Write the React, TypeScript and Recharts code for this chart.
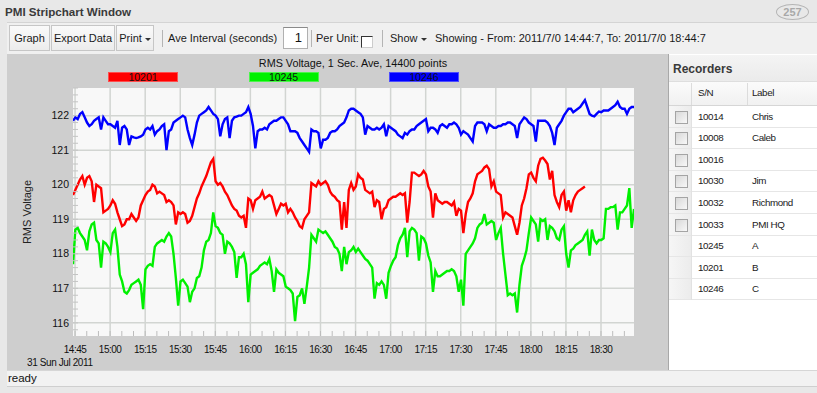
import React from 'react';
import { LineChart, Line, XAxis, YAxis, CartesianGrid } from 'recharts';

const FONT = "'Liberation Sans', Arial, sans-serif";

// ---- time axis (minutes since midnight) ----
const startMinute = 14 * 60 + 44 + 7 / 60; // 2011/7/0 14:44:7
const endMinute = 18 * 60 + 44 + 7 / 60; // 2011/7/0 18:44:7
const stepMinutes = 1;

const xTickLabels = ['14:45', '15:00', '15:15', '15:30', '15:45', '16:00', '16:15', '16:30', '16:45', '17:00', '17:15', '17:30', '17:45', '18:00', '18:15', '18:30'];
const yTickLabels = [116, 117, 118, 119, 120, 121, 122];

// ---- series (one value per minute) ----
const seriesNames = ['10201', '10245', '10246'];
const seriesColors = ['#ff0000', '#00f000', '#0000ff'];

const v10246 = [
  121.85, 121.95, 121.9, 122.05, 122.1, 121.95, 121.8, 121.7, 121.75, 121.85,
  121.9, 121.95, 121.6, 121.95, 121.85, 121.75, 121.75, 121.7, 121.65, 121.85,
  121.15, 121.65, 121.7, 121.6, 121.15, 121.4, 121.37, 121.35, 121.37, 121.4,
  121.45, 121.6, 121.65, 121.6, 121.7, 121.45, 121.55, 121.6, 121.7, 121.75,
  121.0, 121.55, 121.6, 121.8, 121.85, 121.9, 121.95, 122.0, 121.95, 121.6,
  121.35, 121.15, 121.45, 121.8, 122.0, 122.05, 122.1, 122.15, 122.25, 122.15,
  122.05, 122.0, 121.9, 121.4, 121.75, 121.9, 121.95, 121.35, 121.85, 121.95,
  121.97, 122.0, 122.0, 122.05, 122.1, 122.25, 122.05, 121.7, 121.05, 121.55,
  121.6, 121.6, 121.65, 121.6, 121.75, 121.8, 121.85, 121.85, 121.9, 121.95,
  121.95, 121.85, 121.75, 121.55, 121.55, 121.55, 121.5, 121.35, 121.25, 121.15,
  121.05, 120.95, 121.6, 121.55, 121.55, 121.5, 121.05, 121.3, 121.3, 121.35,
  121.5, 121.55, 121.55, 121.6, 121.7, 121.75, 121.8, 121.95, 122.15, 122.2,
  122.2, 122.15, 122.1, 122.05, 121.95, 121.45, 121.7, 121.65, 121.6, 121.6,
  121.65, 121.6, 121.65, 121.75, 121.4, 121.7, 121.65, 121.6, 121.55, 121.45,
  121.4, 121.35, 121.5, 121.45, 121.55, 121.6, 121.6, 121.7, 121.75, 121.8,
  121.85, 121.9, 121.55, 121.65, 121.65, 121.6, 121.5, 121.7, 121.75, 121.7,
  121.65, 121.75, 121.75, 121.8, 121.75, 121.65, 121.45, 121.55, 121.5, 121.45,
  121.35, 121.25, 121.7, 121.8, 121.8, 121.8, 121.75, 121.55, 121.75, 121.7,
  121.65, 121.65, 121.7, 121.7, 121.75, 121.75, 121.8, 121.8, 121.75, 121.7,
  121.35, 121.75, 121.85, 121.95, 121.9, 121.8, 121.75, 121.7, 121.25, 121.85,
  121.85, 121.85, 121.85, 121.8, 121.7, 121.5, 121.15, 121.65, 121.75, 121.85,
  122.0, 122.1, 122.2, 122.2, 122.1, 122.15, 122.2, 122.25, 122.35, 122.45,
  122.25, 122.05, 122.0, 121.98, 122.05, 122.12, 122.1, 122.15, 122.15, 122.15,
  122.2, 122.25, 122.3, 122.4, 122.25, 122.2, 122.2, 122.05, 122.2, 122.25,
  122.25,
];

const v10201 = [
  119.7, 119.85, 120.0, 120.15, 120.25, 120.0, 120.2, 120.25, 120.1, 119.5,
  120.0, 119.95, 119.9, 119.2, 119.25, 119.3, 119.4, 119.55, 119.45, 119.2,
  119.0, 118.8, 118.85, 119.0, 119.0, 119.15, 119.05, 118.95, 119.05, 119.4,
  119.55, 119.7, 119.8, 119.85, 120.0, 119.95, 119.75, 119.8, 119.75, 119.7,
  119.5, 119.55, 119.5, 119.4, 118.85, 119.2, 119.15, 119.2, 119.15, 118.9,
  118.95, 119.1, 119.35, 119.6, 119.75, 119.95, 120.1, 120.25, 120.45, 120.65,
  120.75, 120.1, 120.0, 120.05, 119.95, 119.8, 119.7, 119.55, 119.4, 119.3,
  119.25, 119.1, 119.05, 119.1, 118.75, 119.6, 119.55, 119.3, 119.55, 119.6,
  119.65, 119.8, 119.6, 119.65, 119.7, 119.65, 119.4, 119.15, 119.3, 119.45,
  119.4, 119.45, 119.2, 119.3, 119.2, 119.05, 118.95, 118.8, 118.75, 119.0,
  119.1, 119.2, 120.05, 120.0, 119.95, 120.1, 120.0, 120.05, 120.1, 120.0,
  119.8, 119.7, 119.65, 119.55, 119.5, 118.7, 119.5, 118.75, 119.85, 120.05,
  119.85, 119.95, 120.3, 120.2, 120.15, 119.85, 119.8, 119.75, 119.8, 119.35,
  119.55, 119.5, 119.0, 119.3, 119.35, 119.55, 119.6, 119.65, 119.65, 119.7,
  119.75, 119.7, 119.75, 118.9, 119.5, 120.35, 120.35, 120.3, 120.25, 120.3,
  120.4, 120.3, 119.95, 119.8, 119.05, 119.75, 119.55, 119.5, 119.45, 119.5,
  119.5, 119.45, 119.4, 119.5, 119.1, 119.3, 119.25, 118.6, 119.15, 119.5,
  119.6, 119.75, 120.1, 120.3, 120.35, 120.4, 120.5, 120.55, 120.45, 119.95,
  120.1, 119.8, 119.75, 119.7, 119.05, 119.2, 119.15, 119.1, 119.05, 118.8,
  118.55, 118.9, 119.4, 119.6, 119.9, 120.3, 120.35, 120.2, 120.1, 120.55,
  120.75, 120.78, 120.7, 120.6, 120.15, 120.4, 119.7, 119.5, 119.35, 119.7,
  119.8, 119.25, 119.55, 119.2, 119.55, 119.7, 119.8, 119.85, 119.9, 119.95,
  null, null, null, null, null, null, null, null, null, null,
  null, null, null, null, null, null, null, null, null, null,
  null,
];

const v10245 = [
  117.7, 118.7, 118.75, 118.6, 118.5, 118.4, 118.1, 118.65, 118.85, 118.9,
  118.4, 118.3, 117.6, 118.35, 118.3, 118.2, 118.05, 118.6, 118.7, 118.2,
  117.4, 117.2, 116.9, 116.85, 116.95, 117.1, 117.15, 117.2, 117.25, 117.1,
  116.4, 117.55, 117.65, 117.7, 117.65, 118.2, 118.3, 118.35, 118.4, 118.35,
  118.5, 118.6, 118.5, 118.0, 117.3, 116.5, 117.2, 117.25, 117.15, 117.05,
  116.6, 116.9, 117.0, 117.3, 117.35, 117.6, 118.1, 118.35, 118.4, 118.6,
  119.2, 118.8, 118.75, 118.6, 118.55, 118.0, 118.35, 118.3, 118.2, 118.05,
  117.3, 117.9, 117.9, 118.0, 117.7, 116.6, 117.4, 117.45, 117.5, 117.55,
  117.65, 117.7, 117.75, 117.7, 117.85, 117.5, 116.9, 117.55, 117.45, 117.4,
  117.35, 117.05, 117.0, 116.95, 116.85, 116.05, 116.75, 116.8, 117.0, 116.55,
  117.05, 117.6, 118.55, 118.45, 118.35, 118.7, 118.65, 118.6, 118.65, 118.55,
  118.45, 118.35, 118.2, 118.15, 118.0, 117.5, 118.2, 117.7, 118.05, 118.1,
  118.2, 118.05, 118.15, 118.05, 117.95, 117.85, 117.8, 117.7, 117.6, 116.7,
  117.15, 117.1, 117.2, 117.1, 116.7, 117.45, 117.65, 117.8, 117.9, 118.25,
  118.45, 118.55, 118.75, 117.9, 118.65, 118.75, 118.7, 118.6, 117.8, 118.5,
  118.45, 118.3, 117.95, 117.75, 116.9, 117.5, 117.35, 117.35, 117.4, 117.45,
  117.5, 117.5, 117.55, 117.5, 117.35, 116.9, 117.25, 116.5, 118.0, 118.1,
  118.2, 118.3, 118.45, 118.75, 118.85, 118.9, 119.15, 118.85, 118.9, 118.95,
  118.9, 118.4, 118.6, 118.75, 118.0, 117.4, 116.8, 116.85, 116.8, 116.85,
  116.3, 117.1, 117.65, 117.85, 118.1, 118.6, 119.05, 118.95, 118.85, 118.35,
  119.0, 118.95, 119.0, 118.4, 118.8, 118.75, 118.65, 118.45, 118.4, 118.7,
  118.8, 118.0, 117.6, 118.1, 118.15, 118.25, 118.3, 118.35, 118.4, 118.55,
  118.65, 117.95, 118.7, 118.4, 118.3, 118.4, 118.4, 118.45, 119.3, 119.3,
  119.35, 119.35, 119.4, 118.7, 119.2, 119.2, 119.3, 119.4, 119.9, 118.75,
  119.3,
];

const seriesValues = [v10201, v10245, v10246];

// ---- recorders table ----
const recorderSN = ['10014', '10008', '10016', '10030', '10032', '10033', '10245', '10201', '10246'];
const recorderLabel = ['Chris', 'Caleb', '', 'Jim', 'Richmond', 'PMI HQ', 'A', 'B', 'C'];
const recorderHasBox = [true, true, true, true, true, true, false, false, false];

// ---- derived chart table ----
const toMinutes = (s: string) => {
  const [h, m] = s.split(':').map(Number);
  return h * 60 + m;
};
const majorTicks = xTickLabels.map(toMinutes);
const labelByMinute = new Map<number, string>(xTickLabels.map((l) => [toMinutes(l), l]));
const minorXTicks: number[] = [];
for (let m = majorTicks[0]; m <= endMinute; m += 5) minorXTicks.push(m);
const minorYTicks: number[] = [];
for (let k = 0; k <= 35; k++) minorYTicks.push(Math.round((115.8 + 0.2 * k) * 10) / 10);

const chartData = v10201.map((_, i) => {
  const row: Record<string, number | null> = { t: startMinute + i * stepMinutes };
  seriesNames.forEach((n, s) => {
    row['s' + n] = seriesValues[s][i];
  });
  return row;
});

const XTick = (props: any) => {
  const { x, y, payload } = props;
  const label = labelByMinute.get(Math.round(payload.value));
  return (
    <g>
      <line x1={x} x2={x} y1={y - 13} y2={y - 18} stroke="#bdbdbd" strokeWidth={1} />
      {label ? (
        <text x={x} y={y} dy="0.35em" textAnchor="middle" fontSize={10} fill="#111" fontFamily={FONT} style={{ letterSpacing: '-0.5px' }}>
          {label}
        </text>
      ) : null}
    </g>
  );
};

const YTick = (props: any) => {
  const { x, y, payload } = props;
  const v = payload.value;
  const isMajor = yTickLabels.includes(v);
  return (
    <g>
      <line x1={x + 4} x2={x + 9} y1={y} y2={y} stroke="#c4c4c4" strokeWidth={1} />
      {isMajor ? (
        <text x={x} y={y} dy="0.35em" textAnchor="end" fontSize={10.5} fill="#111" fontFamily={FONT}>
          {v}
        </text>
      ) : null}
    </g>
  );
};

const T = (p: { x: number; y: number; children: React.ReactNode; size?: number; bold?: boolean; color?: string; ls?: number }) => (
  <div
    style={{
      position: 'absolute',
      left: p.x,
      top: p.y,
      fontSize: p.size ?? 11,
      fontWeight: p.bold ? 'bold' : 'normal',
      color: p.color ?? '#1a1a1a',
      lineHeight: '14px',
      whiteSpace: 'nowrap',
      letterSpacing: p.ls ? `${p.ls}px` : undefined,
    }}
  >
    {p.children}
  </div>
);

const Btn = (p: { x: number; w: number; children: React.ReactNode }) => (
  <div
    style={{
      position: 'absolute',
      left: p.x,
      top: 25,
      width: p.w,
      height: 26,
      boxSizing: 'border-box',
      border: '1px solid #c6c6c6',
      background: 'linear-gradient(#fafafa, #ececec)',
      fontSize: 11,
      color: '#1a1a1a',
      textAlign: 'center',
      lineHeight: '24px',
      whiteSpace: 'nowrap',
    }}
  >
    {p.children}
  </div>
);

const Sep = (p: { x: number }) => (
  <div style={{ position: 'absolute', left: p.x, top: 30, width: 1, height: 17, background: '#b4b4b4' }} />
);

const Caret = () => (
  <span style={{ display: 'inline-block', width: 0, height: 0, borderLeft: '3px solid transparent', borderRight: '3px solid transparent', borderTop: '3px solid #333', marginLeft: 3, verticalAlign: 'middle' }} />
);

export default function App() {
  const rowTop = 106;
  const rowH = 21.6;
  return (
    <div style={{ position: 'absolute', left: 0, top: 0, width: 817, height: 393, background: '#e8e8e8', overflow: 'hidden', fontFamily: FONT }}>
      {/* window title */}
      <T x={5} y={5} size={11.6} bold color="#3a3a3a">PMI Stripchart Window</T>
      <div style={{ position: 'absolute', left: 776, top: 4, width: 31, height: 14, border: '1px solid #b4b4b4', borderRadius: '50%', fontSize: 11, color: '#a8a8a8', textAlign: 'center', lineHeight: '14px', fontWeight: 'bold' }}>257</div>

      {/* toolbar */}
      <div style={{ position: 'absolute', left: 7, top: 22, width: 810, height: 32, background: '#f0f0f0', borderTop: '1px solid #d4d4d4', boxSizing: 'border-box' }} />
      <Btn x={9} w={41}>Graph</Btn>
      <Btn x={51} w={64}>Export Data</Btn>
      <Btn x={116} w={38}>
        Print<Caret />
      </Btn>
      <Sep x={162} />
      <T x={168} y={31}>Ave Interval (seconds)</T>
      <div style={{ position: 'absolute', left: 283, top: 27, width: 25, height: 22, boxSizing: 'border-box', background: '#fff', border: '1px solid #b0b0b0', borderTopColor: '#8a8a8a', fontSize: 13, textAlign: 'right', paddingRight: 5, lineHeight: '20px', color: '#111' }}>1</div>
      <Sep x={311} />
      <T x={316} y={31}>Per Unit:</T>
      <div style={{ position: 'absolute', left: 361, top: 36, width: 12, height: 12, boxSizing: 'border-box', background: '#fff', borderTop: '1px solid #333', borderLeft: '1px solid #333', borderRight: '1px solid #ccc', borderBottom: '1px solid #ccc' }} />
      <Sep x={382} />
      <T x={390} y={31}>
        Show<Caret />
      </T>
      <T x={435} y={31}>Showing - From: 2011/7/0 14:44:7, To: 2011/7/0 18:44:7</T>

      {/* chart panel */}
      <div style={{ position: 'absolute', left: 7, top: 54, width: 661, height: 316, background: '#cecece' }}>
        <LineChart width={661} height={316} data={chartData} margin={{ top: 34, right: 34, bottom: 14, left: 0 }}>
          <CartesianGrid
            fill="#f8f8f8"
            stroke="#d2d5d2"
            strokeWidth={1.5}
            horizontalValues={yTickLabels}
            verticalValues={majorTicks}
          />
          <XAxis
            dataKey="t"
            type="number"
            domain={[startMinute, endMinute]}
            ticks={minorXTicks}
            interval={0}
            axisLine={false}
            tickLine={false}
            tickSize={0}
            tickMargin={13}
            height={20}
            tick={<XTick />}
            allowDataOverflow
          />
          <YAxis
            type="number"
            domain={[115.62, 122.8]}
            ticks={minorYTicks}
            interval={0}
            axisLine={false}
            tickLine={false}
            tickSize={0}
            tickMargin={4}
            width={66}
            tick={<YTick />}
            allowDataOverflow
            label={{ value: 'RMS Voltage', angle: -90, position: 'insideLeft', offset: 20, style: { textAnchor: 'middle' }, fontSize: 11, fill: '#222', fontFamily: FONT }}
          />
          {seriesNames.map((n, i) => (
            <Line key={n} dataKey={'s' + n} stroke={seriesColors[i]} strokeWidth={2.4} dot={false} type="linear" isAnimationActive={false} connectNulls={false} />
          ))}
        </LineChart>
      </div>
      {/* chart title + legend */}
      <div style={{ position: 'absolute', left: 203, top: 56, width: 300, textAlign: 'center', fontSize: 10.8, color: '#111', lineHeight: '14px' }}>RMS Voltage, 1 Sec. Ave, 14400 points</div>
      <div style={{ position: 'absolute', left: 108, top: 72, display: 'flex', gap: 70.5 }}>
        {seriesNames.map((n, i) => (
          <div key={n} style={{ width: 70, height: 10, boxSizing: 'border-box', background: seriesColors[i], border: '1px solid rgba(255,255,255,0.3)', fontSize: 10.5, lineHeight: '9px', textAlign: 'center', color: '#111' }}>{n}</div>
        ))}
      </div>
      <T x={27} y={356} size={10} ls={-0.4} color="#111">31 Sun Jul 2011</T>

      {/* recorders panel */}
      <div style={{ position: 'absolute', left: 668, top: 54, width: 149, height: 316, background: '#fff', borderLeft: '1px solid #a8a8a8', boxSizing: 'border-box' }} />
      <div style={{ position: 'absolute', left: 669, top: 55, width: 148, height: 27, background: 'linear-gradient(#f4f4f4, #ebebeb)', borderBottom: '1px solid #dedede', boxSizing: 'border-box' }} />
      <T x={673} y={62} size={12} bold color="#3a3a3a">Recorders</T>
      <div style={{ position: 'absolute', left: 669, top: 82, width: 148, height: 24, background: 'linear-gradient(#fbfbfb, #f1f1f1)', borderBottom: '1px solid #d6d6d6', boxSizing: 'border-box' }} />
      <div style={{ position: 'absolute', left: 691, top: 83, width: 1, height: 22, background: '#dcdcdc' }} />
      <div style={{ position: 'absolute', left: 747, top: 83, width: 1, height: 22, background: '#dcdcdc' }} />
      <T x={698} y={86} size={9.8} ls={-0.4}>S/N</T>
      <T x={752} y={86} size={9.8} ls={-0.4}>Label</T>
      {recorderSN.map((sn, i) => {
        const top = rowTop + i * rowH;
        return (
          <React.Fragment key={sn}>
            <div style={{ position: 'absolute', left: 669, top, width: 148, height: rowH, borderBottom: '1px solid #e6e6e6', boxSizing: 'border-box' }} />
            <div style={{ position: 'absolute', left: 669, top, width: 22, height: rowH - 1, background: 'linear-gradient(90deg, #f6f6f6, #ececec)' }} />
            <div style={{ position: 'absolute', left: 691, top, width: 1, height: rowH, background: '#e2e2e2' }} />
            {recorderHasBox[i] ? (
              <div style={{ position: 'absolute', left: 675, top: top + 4.5, width: 13, height: 13, boxSizing: 'border-box', border: '1px solid #a4a4a4', background: 'linear-gradient(135deg, #d8d8d8, #f8f8f8)' }} />
            ) : null}
            <T x={698} y={top + 3.5} size={9.8} ls={-0.4}>{sn}</T>
            <T x={752} y={top + 3.5} size={9.8} ls={-0.4}>{recorderLabel[i]}</T>
          </React.Fragment>
        );
      })}

      {/* status bar */}
      <div style={{ position: 'absolute', left: 7, top: 370, width: 810, height: 17, background: '#f2f2f2', borderTop: '1px solid #d6d6d6', borderBottom: '1px solid #cfcfcf', boxSizing: 'border-box' }} />
      <T x={8} y={371} size={11.5} color="#111">ready</T>
    </div>
  );
}
